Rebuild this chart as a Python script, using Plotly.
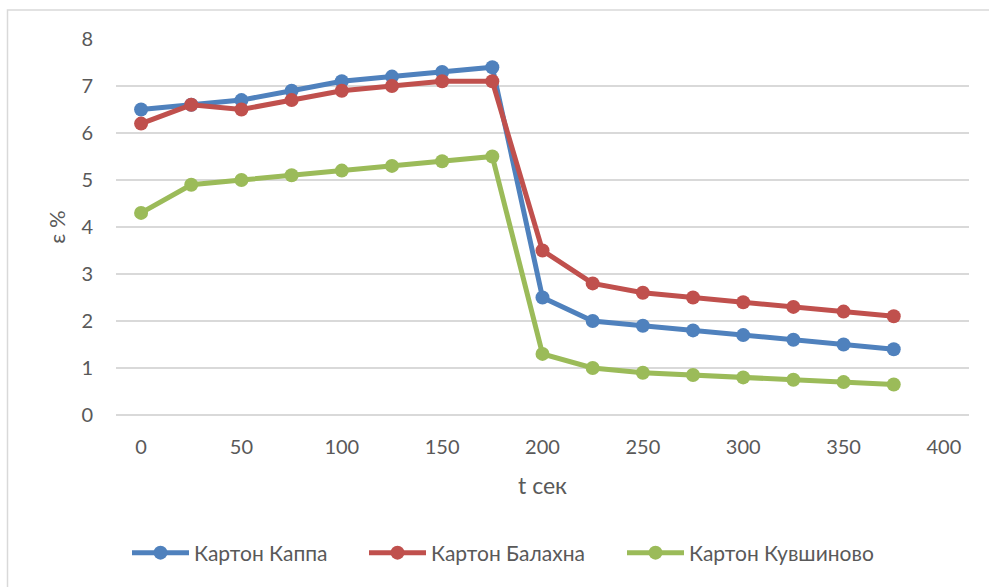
import plotly.graph_objects as go

t_sec = [0, 25, 50, 75, 100, 125, 150, 175, 200, 225, 250, 275, 300, 325, 350, 375]
kappa = [6.5, 6.6, 6.7, 6.9, 7.1, 7.2, 7.3, 7.4, 2.5, 2.0, 1.9, 1.8, 1.7, 1.6, 1.5, 1.4]
balakhna = [6.2, 6.6, 6.5, 6.7, 6.9, 7.0, 7.1, 7.1, 3.5, 2.8, 2.6, 2.5, 2.4, 2.3, 2.2, 2.1]
kuvshinovo = [4.3, 4.9, 5.0, 5.1, 5.2, 5.3, 5.4, 5.5, 1.3, 1.0, 0.9, 0.85, 0.8, 0.75, 0.7, 0.65]

series = [
    ("Картон Каппа", kappa, "#4F81BD"),
    ("Картон Балахна", balakhna, "#C0504D"),
    ("Картон Кувшиново", kuvshinovo, "#9BBB59"),
]

FONT = "Lato, 'Open Sans', sans-serif"
GREY = "#595959"

W, H = 989, 587
L, R, T, B = 116, 20, 39, 172
pw, ph = W - L - R, H - T - B

def px2x(px):
    return (px - L) / pw

def py2y(py):
    return (H - B - py) / ph

legend_ids = ["legend", "legend2", "legend3"]
legend_left_px = [127, 364, 622]

fig = go.Figure()
for (name, vals, col), lid in zip(series, legend_ids):
    fig.add_trace(go.Scatter(
        x=t_sec, y=vals, name=name, mode="lines+markers",
        line=dict(color=col, width=5),
        marker=dict(color=col, size=14),
        legend=lid,
    ))

legend_layout = {}
for lid, lx in zip(legend_ids, legend_left_px):
    legend_layout[lid] = dict(orientation="h", x=px2x(lx), xanchor="left",
                              y=py2y(553), yanchor="middle",
                              font=dict(size=21, color=GREY), itemwidth=57,
                              bgcolor="rgba(0,0,0,0)")

fig.update_layout(
    width=W, height=H,
    margin=dict(l=L, r=R, t=T, b=B, autoexpand=False),
    paper_bgcolor="white", plot_bgcolor="white",
    font=dict(family=FONT, size=20, color=GREY),
    showlegend=True,
    xaxis=dict(range=[-12.5, 412.5], dtick=50, tick0=0, showgrid=False, zeroline=False,
               showline=False, ticks="", ticklabelstandoff=18,
               tickfont=dict(size=20, color=GREY),
               title=dict(text="t сек", font=dict(size=23, color=GREY), standoff=20)),
    yaxis=dict(range=[0, 8], dtick=1, showgrid=True, gridcolor="#D9D9D9", gridwidth=1.5,
               zeroline=True, zerolinecolor="#D9D9D9", zerolinewidth=1.5,
               showline=False, ticks="", ticklabelstandoff=22,
               tickfont=dict(size=20, color=GREY),
               title=dict(text="ε %", font=dict(size=22, color=GREY), standoff=9)),
    shapes=[dict(type="rect", xref="paper", yref="paper",
                 x0=px2x(7.5), x1=px2x(1100), y0=py2y(700), y1=py2y(10),
                 line=dict(color="#D9D9D9", width=1.5), layer="below")],
    **legend_layout,
)

fig.write_html("out.html", config={"displayModeBar": False},
               post_script="document.body.style.margin='0';")
